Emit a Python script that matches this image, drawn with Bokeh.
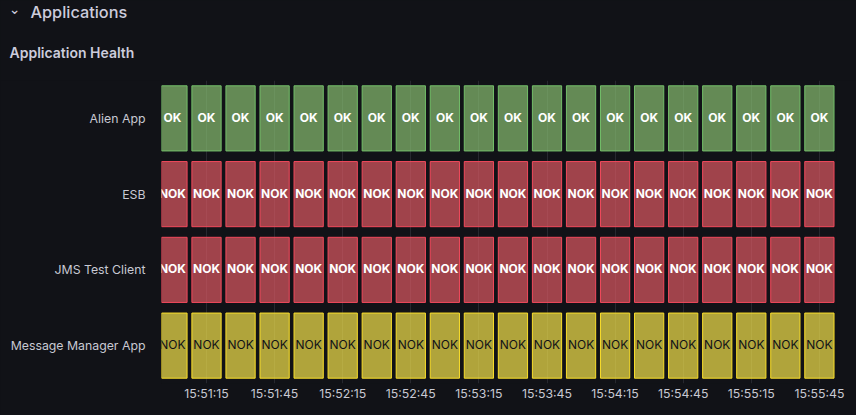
import numpy as np
from bokeh.core.properties import value
from bokeh.embed import file_html
from bokeh.layouts import column
from bokeh.resources import INLINE
from bokeh.plotting import figure
from bokeh.models import (ColumnDataSource, FactorRange, Range1d, FixedTicker, DatetimeTickFormatter,
                          Label, GlobalInlineStyleSheet)

section_title = "Applications"
panel_title = "Application Health"
apps = ["Alien App", "ESB", "JMS Test Client", "Message Manager App"]
times = ["15:51:00", "15:51:15", "15:51:30", "15:51:45", "15:52:00", "15:52:15", "15:52:30",
         "15:52:45", "15:53:00", "15:53:15", "15:53:30", "15:53:45", "15:54:00", "15:54:15",
         "15:54:30", "15:54:45", "15:55:00", "15:55:15", "15:55:30", "15:55:45"]
tick_labels = ["15:51:15", "15:51:45", "15:52:15", "15:52:45", "15:53:15",
               "15:53:45", "15:54:15", "15:54:45", "15:55:15", "15:55:45"]
alien_app = ["OK"] * 20
esb = ["NOK"] * 20
jms_test_client = ["NOK"] * 20
message_manager_app = ["NOK"] * 20
series = [alien_app, esb, jms_test_client, message_manager_app]
row_styles = [("#88BD70", "#73BF69", "#ffffff", "bold"),
              ("#DD5963", "#F2495C", "#ffffff", "bold"),
              ("#DD5963", "#F2495C", "#ffffff", "bold"),
              ("#F4E24C", "#FADE2A", "#111217", "normal")]

BG = "#111217"
FG = "#CCCCDC"
FONT = "Inter"
HEAD = 80

def ms(t):
    return np.datetime64("2024-01-01T" + t).astype("datetime64[ms]").astype("int64").item()

STEP = 15000
t_ms = [ms(t) for t in times]
PX = STEP / 34.05
FRAME_LEFT = 161
x0 = ms("15:51:15") - (206 - FRAME_LEFT) * PX
x1 = ms("15:51:15") + (836 - 206) * PX

head = figure(width=856, height=HEAD, output_backend="svg", toolbar_location=None,
              x_range=(0, 856), y_range=(0, HEAD), x_axis_location=None, y_axis_location=None,
              background_fill_color=BG, border_fill_color=BG, outline_line_color=None,
              min_border=0, frame_align=False)
head.grid.visible = False

def label(text, x, y, **kw):
    head.add_layout(Label(x=x, y=HEAD - y, x_units="screen", y_units="screen",
                          text=text, text_baseline="middle", **kw))

label(section_title, 30, 11.5, text_font="Inter Medium", text_font_size="16.3px", text_font_style="normal", text_color="#CCCCDC")
label(panel_title, 9, 51.5, text_font="Inter SemiBold", text_font_size="14px", text_font_style="normal", text_color="#CCCCDC")
label("⌄", 14, 8.5, text_font="DejaVu Sans", text_font_size="14px", text_color="#CCCCDC", text_align="center")

p = figure(width=856, height=415 - HEAD, output_backend="svg", toolbar_location=None,
           x_axis_type="datetime",
           x_range=Range1d(x0, x1), y_range=FactorRange(factors=apps[::-1]),
           background_fill_color=BG, border_fill_color=BG, outline_line_color=None,
           min_border_left=FRAME_LEFT, min_border_right=20, min_border_top=0, min_border_bottom=32,
           frame_align=False)

for app, vals, (fill, line, txt, weight) in zip(apps, series, row_styles):
    src = ColumnDataSource(dict(
        left=[t - STEP / 2 + 2.4 * PX for t in t_ms],
        right=[t + STEP / 2 - 2.4 * PX for t in t_ms],
        x=t_ms, y=[app] * len(t_ms), v=vals))
    p.hbar(y="y", left="left", right="right", height=0.86, source=src,
           fill_color=fill, fill_alpha=0.7, line_color=line, line_width=1, line_join="miter")
    p.text(x="x", y="y", text="v", source=src, text_color=txt, text_font=value(FONT),
           text_font_size="12px", text_font_style=weight,
           text_align="center", text_baseline="middle", y_offset=-1)

p.xgrid.grid_line_color = FG
p.xgrid.grid_line_alpha = 0.12
p.ygrid.grid_line_color = None
p.xaxis.ticker = FixedTicker(ticks=[ms(t) for t in tick_labels])
p.xaxis.formatter = DatetimeTickFormatter(
    milliseconds="%H:%M:%S", seconds="%H:%M:%S", minsec="%H:%M:%S", minutes="%H:%M:%S",
    hourmin="%H:%M:%S", hours="%H:%M:%S", days="%H:%M:%S", months="%H:%M:%S", years="%H:%M:%S",
    context=None)
for ax in (p.xaxis[0], p.yaxis[0]):
    ax.axis_line_color = None
    ax.major_tick_line_color = None
    ax.minor_tick_line_color = None
    ax.major_tick_out = 0
    ax.major_label_text_color = "#C8C9D3"
    ax.major_label_text_font = FONT
    ax.major_label_text_font_style = "normal"
p.xaxis[0].major_label_text_font_size = "12.3px"
p.yaxis[0].major_label_text_font_size = "12.3px"
p.xaxis[0].major_label_standoff = 2
p.yaxis[0].major_label_standoff = 16

page = column(head, p, spacing=0,
              stylesheets=[GlobalInlineStyleSheet(css="html,body{margin:0;padding:0;background:#111217;overflow:hidden}")])
open("out.html", "w").write(file_html(page, INLINE))
